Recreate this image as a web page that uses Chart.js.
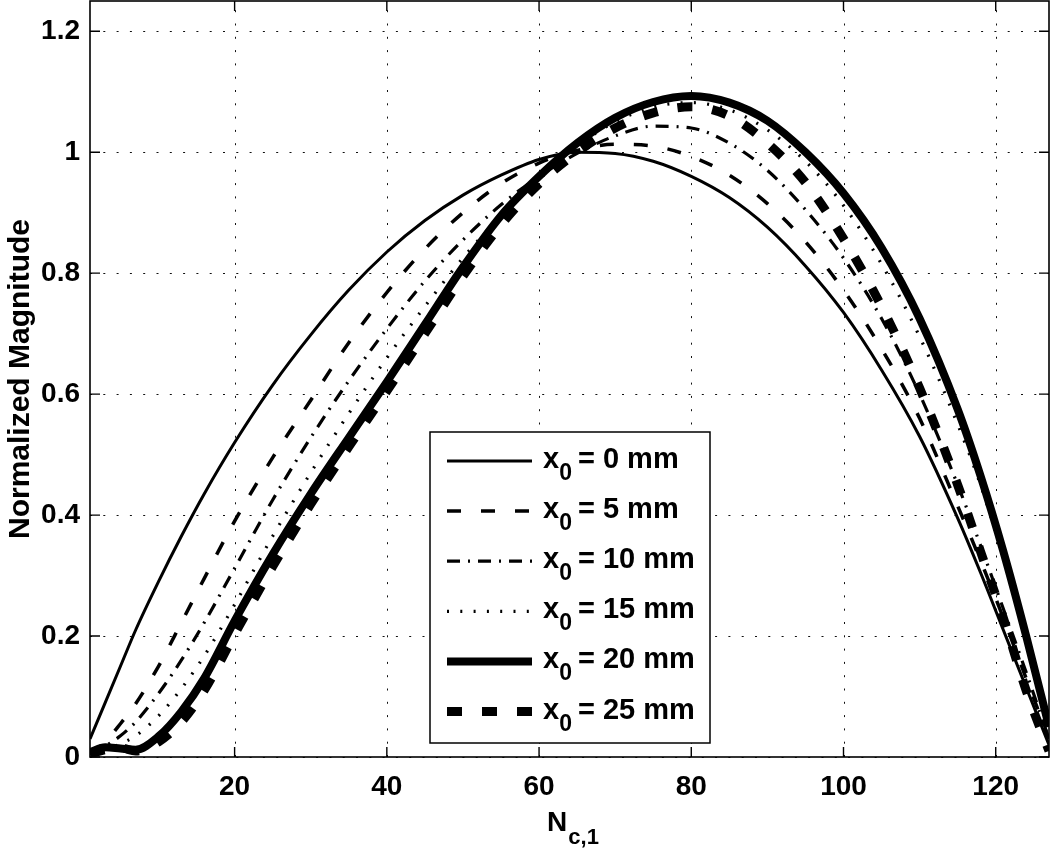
<!DOCTYPE html>
<html>
<head>
<meta charset="utf-8">
<script src="https://cdn.jsdelivr.net/npm/chart.js@4.4.1/dist/chart.umd.min.js"></script>
<style>
html,body{margin:0;padding:0;background:#fff;}
#wrap{width:1050px;height:848px;position:relative;}
</style>
</head>
<body>
<div id="wrap"><canvas id="c" width="1050" height="848"></canvas></div>
<script>
// ---- data ----
const nc = [1,3,5,7,10,13,16,20,25,30,35,40,45,50,55,60,65,70,75,80,85,90,95,100,105,110,115,118,121,124,127];
const mag0  = [0.03,0.09,0.15,0.21,0.29,0.365,0.435,0.52,0.615,0.698,0.772,0.835,0.887,0.929,0.962,0.988,1.0,0.998,0.985,0.96,0.925,0.876,0.812,0.735,0.64,0.53,0.395,0.305,0.21,0.115,0.02];
const mag5  = [0.005,0.025,0.055,0.088,0.15,0.222,0.295,0.39,0.495,0.59,0.685,0.768,0.84,0.9,0.948,0.982,1.003,1.013,1.01,0.993,0.962,0.915,0.852,0.772,0.675,0.56,0.415,0.325,0.23,0.13,0.03];
const mag10 = [0.005,0.018,0.035,0.058,0.105,0.16,0.222,0.312,0.425,0.528,0.622,0.708,0.787,0.855,0.913,0.96,0.998,1.027,1.043,1.04,1.015,0.97,0.905,0.825,0.725,0.6,0.45,0.35,0.245,0.14,0.03];
const mag15 = [0.005,0.012,0.022,0.035,0.068,0.113,0.167,0.252,0.365,0.47,0.568,0.66,0.745,0.825,0.895,0.955,1.01,1.05,1.075,1.082,1.07,1.037,0.985,0.912,0.815,0.695,0.55,0.45,0.33,0.2,0.045];
const mag20 = [0.008,0.016,0.014,0.012,0.034,0.075,0.13,0.225,0.335,0.435,0.528,0.62,0.715,0.81,0.895,0.96,1.015,1.057,1.083,1.093,1.082,1.052,1.0,0.932,0.842,0.725,0.575,0.465,0.34,0.2,0.05];
const mag25 = [0.005,0.012,0.015,0.01,0.025,0.058,0.11,0.203,0.315,0.418,0.513,0.605,0.7,0.795,0.88,0.948,1.0,1.04,1.065,1.075,1.06,1.015,0.95,0.857,0.745,0.61,0.45,0.34,0.23,0.11,0.01];
const offsetsMm = ['0','5','10','15','20','25'];
const xTicks = [20,40,60,80,100,120];
const yTicks = [0,0.2,0.4,0.6,0.8,1,1.2];
const xTitleMain = 'N';
const xTitleSub = 'c,1';
const yTitle = 'Normalized Magnitude';

// ---- styles ----
const FONT = '"Liberation Sans", Arial, Helvetica, sans-serif';
const styles = [
  {w:3,   dash:[]},
  {w:3.5, dash:[14,20]},
  {w:3.2, dash:[13,8,2,8]},
  {w:3.2, dash:[2,11.3]},
  {w:8,   dash:[]},
  {w:9,   dash:[15,20]}
];
const series = [mag0, mag5, mag10, mag15, mag20, mag25];

const datasets = series.map((arr, i) => ({
  label: 'x0 = ' + offsetsMm[i] + ' mm',
  data: nc.map((x, j) => ({x: x, y: arr[j]})),
  borderColor: '#000',
  backgroundColor: '#000',
  borderWidth: styles[i].w,
  borderDash: styles[i].dash,
  borderCapStyle: 'butt',
  borderJoinStyle: 'round',
  pointRadius: 0,
  fill: false,
  cubicInterpolationMode: 'monotone',
  order: 5 - i
}));

const matlabPlugin = {
  id: 'matlab',
  beforeDatasetsDraw(chart) {
    const {ctx, chartArea: {left, right, top, bottom}, scales: {x, y}} = chart;
    ctx.save();
    ctx.strokeStyle = '#111';
    ctx.lineWidth = 1;
    ctx.setLineDash([2, 11.3]);
    for (const v of xTicks) {
      const px = Math.round(x.getPixelForValue(v)) + 0.5;
      ctx.beginPath(); ctx.moveTo(px, bottom); ctx.lineTo(px, top); ctx.stroke();
    }
    for (const v of yTicks) {
      const py = Math.round(y.getPixelForValue(v)) + 0.5;
      ctx.beginPath(); ctx.moveTo(left, py); ctx.lineTo(right, py); ctx.stroke();
    }
    ctx.restore();
  },
  afterDatasetsDraw(chart) {
    const {ctx, chartArea: {left, right, top, bottom}, scales: {x, y}} = chart;
    ctx.save();
    // frame
    ctx.setLineDash([]);
    ctx.strokeStyle = '#000';
    ctx.lineWidth = 1.6;
    ctx.strokeRect(left, top, right - left, bottom - top);
    // inward ticks
    ctx.lineWidth = 1.4;
    const tl = 10;
    for (const v of xTicks) {
      const px = x.getPixelForValue(v);
      ctx.beginPath(); ctx.moveTo(px, bottom); ctx.lineTo(px, bottom - tl);
      ctx.moveTo(px, top); ctx.lineTo(px, top + tl); ctx.stroke();
    }
    for (const v of yTicks) {
      const py = y.getPixelForValue(v);
      ctx.beginPath(); ctx.moveTo(left, py); ctx.lineTo(left + tl, py);
      ctx.moveTo(right, py); ctx.lineTo(right - tl, py); ctx.stroke();
    }
    // legend
    const bx = 430, by = 432, bw = 280, bh = 311;
    ctx.fillStyle = '#fff';
    ctx.fillRect(bx, by, bw, bh);
    ctx.strokeStyle = '#000';
    ctx.lineWidth = 1.5;
    ctx.strokeRect(bx, by, bw, bh);
    for (let i = 0; i < series.length; i++) {
      const yc = 461 + i * 50.1;
      ctx.save();
      ctx.lineWidth = styles[i].w;
      ctx.setLineDash(styles[i].dash);
      ctx.lineCap = 'butt';
      ctx.beginPath(); ctx.moveTo(447, yc); ctx.lineTo(532, yc); ctx.stroke();
      ctx.restore();
      ctx.fillStyle = '#000';
      ctx.textBaseline = 'alphabetic';
      ctx.textAlign = 'left';
      const base = yc + 7;
      ctx.font = 'bold 29px ' + FONT;
      ctx.fillText('x', 543, base);
      const wx = ctx.measureText('x').width;
      ctx.font = 'bold 23px ' + FONT;
      ctx.fillText('0', 543 + wx, base + 12);
      const w0 = ctx.measureText('0').width;
      ctx.font = 'bold 29px ' + FONT;
      ctx.fillText('= ' + offsetsMm[i] + ' mm', 543 + wx + w0 + 6, base);
    }
    // x axis title with subscript
    ctx.fillStyle = '#000';
    ctx.font = 'bold 28px ' + FONT;
    const wN = ctx.measureText(xTitleMain).width;
    ctx.font = 'bold 22px ' + FONT;
    const wS = ctx.measureText(xTitleSub).width;
    const sx = 573 - (wN + wS + 1) / 2;
    ctx.font = 'bold 28px ' + FONT;
    ctx.fillText(xTitleMain, sx, 831);
    ctx.font = 'bold 22px ' + FONT;
    ctx.fillText(xTitleSub, sx + wN + 1, 844);
    ctx.restore();
  }
};

new Chart(document.getElementById('c'), {
  type: 'line',
  data: {datasets: datasets},
  options: {
    responsive: false,
    animation: false,
    devicePixelRatio: 1,
    layout: {padding: {top: 1, right: 1, left: 0, bottom: 0}},
    plugins: {legend: {display: false}, tooltip: {enabled: false}},
    elements: {point: {radius: 0}},
    scales: {
      x: {
        type: 'linear',
        min: 1, max: 127,
        afterBuildTicks: s => { s.ticks = xTicks.map(v => ({value: v})); },
        afterFit: s => { s.height = 91; s.paddingLeft = 0; s.paddingRight = 0; },
        grid: {display: false, drawTicks: false},
        border: {display: false},
        ticks: {
          color: '#000', padding: 13, maxRotation: 0, autoSkip: false,
          font: {family: FONT, size: 28, weight: 'bold'},
          callback: v => String(v)
        }
      },
      y: {
        type: 'linear',
        min: 0, max: 1.25,
        afterBuildTicks: s => { s.ticks = yTicks.map(v => ({value: v})); },
        afterFit: s => { s.width = 90; s.paddingTop = 0; s.paddingBottom = 0; },
        grid: {display: false, drawTicks: false},
        border: {display: false},
        ticks: {
          color: '#000', padding: 10, autoSkip: false,
          font: {family: FONT, size: 28, weight: 'bold'},
          callback: v => String(Math.round(v * 10) / 10)
        },
        title: {
          display: true, text: yTitle, color: '#000',
          font: {family: FONT, size: 30, weight: 'bold'},
          padding: {top: 3, bottom: 0}
        }
      }
    }
  },
  plugins: [matlabPlugin]
});
</script>
</body>
</html>
